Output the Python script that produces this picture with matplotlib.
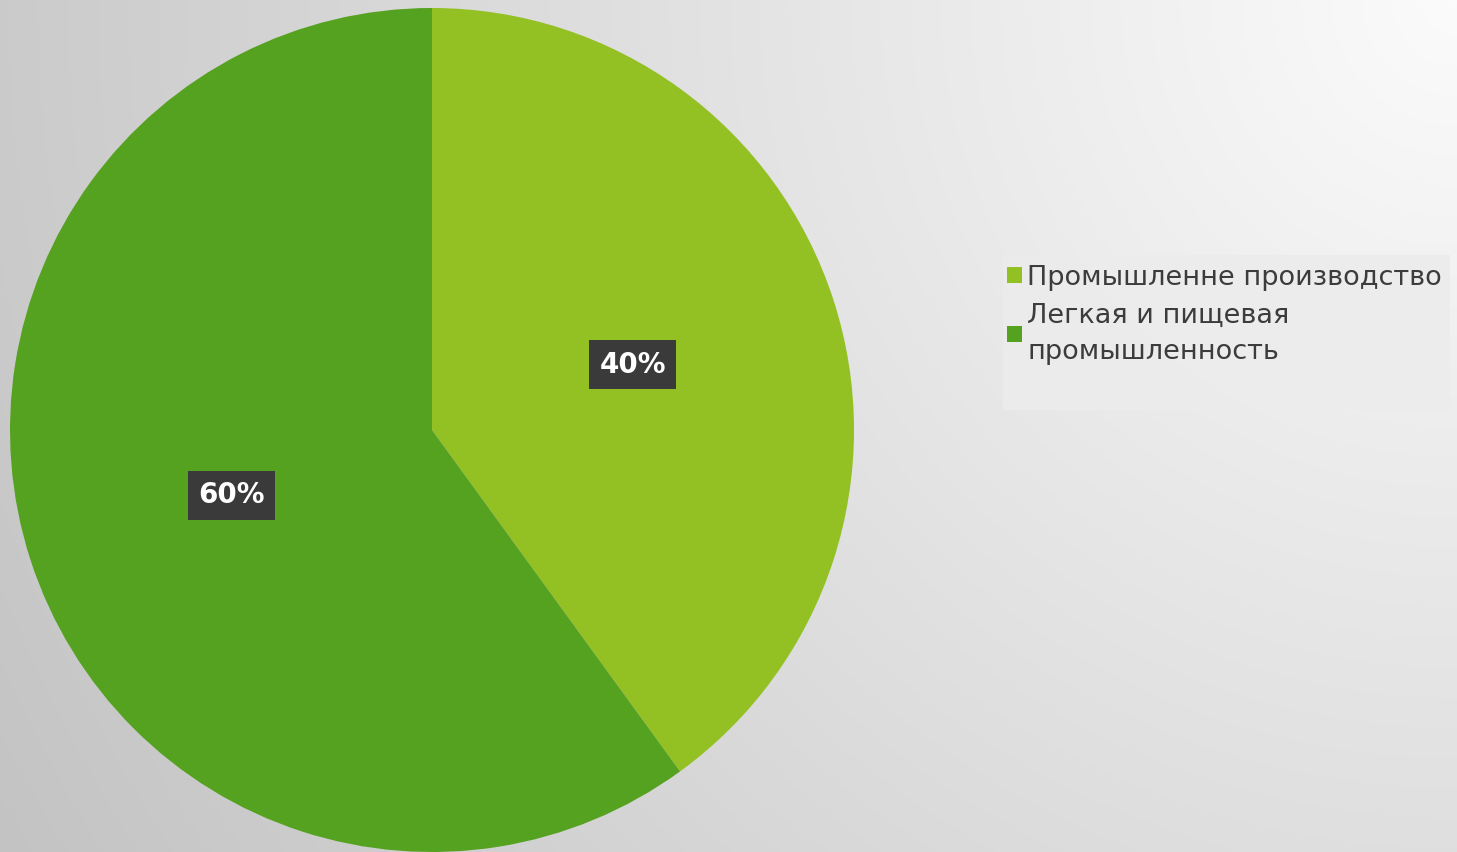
import numpy as np
import matplotlib.pyplot as plt
from matplotlib.patches import Patch, Rectangle

labels = ['Промышленне производство', 'Легкая и пищевая\nпромышленность']
values = [40, 60]
colors = ['#93c124', '#55a120']

W, H = 1457, 852
fig = plt.figure(figsize=(W / 100, H / 100), dpi=100)

# background: radial gray gradient, lightest at top-right
bg = fig.add_axes([0, 0, 1, 1])
yy, xx = np.mgrid[0:H, 0:W]
d = np.hypot(xx - W, yy) / np.hypot(W, H)
shade = 0.985 - 0.22 * d
bg.imshow(np.dstack([shade] * 3), aspect='auto', extent=[0, 1, 0, 1], zorder=0)
bg.axis('off')

# legend panel
bg.add_patch(Rectangle((1003 / W, 1 - 410 / H), 447 / W, 155 / H,
                       transform=fig.transFigure, facecolor='#ececec',
                       edgecolor='none', alpha=0.9, zorder=1))

# pie: centre (432, 430) px, radius 422 px
cx, cy, r = 432, 430, 422
ax = fig.add_axes([(cx - r) / W, (H - cy - r) / H, 2 * r / W, 2 * r / H])
ax.set_facecolor('none')
wedges, texts = ax.pie(values, colors=colors, startangle=90, counterclock=False,
                       labels=[f'{v}%' for v in values], labeldistance=0.5,
                       wedgeprops=dict(linewidth=0))
for t in texts:
    t.set_ha('center')
    t.set_va('center')
    t.set_color('white')
    t.set_fontsize(20)
    t.set_fontweight('bold')
    t.set_bbox(dict(boxstyle='square,pad=0.38', facecolor='#3a3a3a', edgecolor='none'))
ax.set_xlim(-1, 1)
ax.set_ylim(-1, 1)
ax.set_aspect('auto')

handles = [Patch(facecolor=c, edgecolor='none') for c in colors]
leg = fig.legend(handles, labels, loc='upper left',
                 bbox_to_anchor=(1004 / W, 1 - 262 / H),
                 fontsize=19.5, frameon=False,
                 handlelength=0.55, handleheight=0.55, handletextpad=0.2,
                 borderpad=0.1, labelspacing=0.45, borderaxespad=0)
for t in leg.get_texts():
    t.set_color('#3c3c3c')
    t.set_linespacing(1.5)

fig.savefig('out.png', dpi=100)
